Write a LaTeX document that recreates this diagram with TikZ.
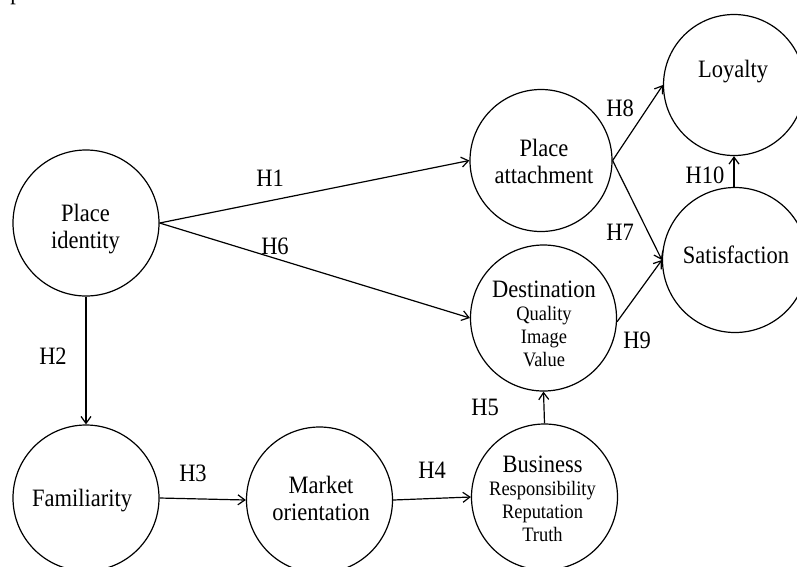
\documentclass[tikz,border=0pt]{standalone}
\usepackage{fontspec}
\setmainfont{Liberation Serif}[FakeStretch=0.9]
\usetikzlibrary{arrows.meta}
\begin{document}
\begin{tikzpicture}[x=1pt,y=-1pt,
  var/.style={draw, circle, line width=1.2pt, inner sep=0pt, minimum size=146pt},
  txt/.style={align=center, inner sep=0pt, font=\fontsize{25}{27}\selectfont},
  txtb/.style={align=center, inner sep=0pt, font=\fontsize{25}{23}\selectfont},
  link/.style={line width=1.2pt, -{Straight Barb[length=7pt,width=10pt,line width=1.2pt]}},
  hyp/.style={inner sep=0pt, font=\fontsize{25}{27}\selectfont}]
\useasboundingbox (0,0) rectangle (797,566);

% fragment of text cut at the top edge
\node[anchor=base, font=\fontsize{25}{27}\selectfont, inner sep=0pt] (frag) at (16,-1) {p};

% circles
\node[var] (PI) at (86,223) {};
\node[var, minimum size=142pt] (PA) at (541,160.5) {};
\node[var, minimum size=141pt] (LO) at (734,85) {};
\node[var, minimum size=145pt] (SA) at (735,260) {};
\node[var] (DE) at (543.5,318) {};
\node[var] (BU) at (544.5,497) {};
\node[var] (FA) at (86,498) {};
\node[var] (MO) at (319.5,500) {};

% texts
\node[txt] (PIt) at (85.5,228.7) {Place\\identity};
\node[txt] (PAt) at (544,161.5) {Place\\attachment};
\node[txt] (LOt) at (733,72) {Loyalty};
\node[txt] (SAt) at (736,254.5) {Satisfaction};
\node[txtb] (DEt) at (544,324) {Destination\\\fontsize{20.5}{23}\selectfont Quality\\\fontsize{20.5}{23}\selectfont Image\\\fontsize{20.5}{23}\selectfont Value};
\node[txtb] (BUt) at (542.5,498.5) {Business\\\fontsize{20.5}{23}\selectfont Responsibility\\\fontsize{20.5}{23}\selectfont Reputation\\\fontsize{20.5}{23}\selectfont Truth};
\node[txt] (FAt) at (82,501) {Familiarity};
\node[txt] (MOt) at (321,498) {Market\\orientation};

% connectors
\draw[link] (PI.east) -- (PA.west);
\draw[link] (PI.east) -- (DE.west);
\draw[link] (PI.south) -- (FA.north);
\draw[link] (FA.east) -- (MO.west);
\draw[link] (MO.east) -- (BU.west);
\draw[link] (BU.north) -- (DE.south);
\draw[link] (PA.east) -- (SA.west);
\draw[link] (PA.east) -- (LO.west);
\draw[link] (DE.-3) -- (SA.west);
\draw[link] (SA.north -| LO.south) -- (LO.south);

% hypothesis labels
\node[hyp] (h1) at (270,178.5) {H1};
\node[hyp] (h6) at (275,246) {H6};
\node[hyp] (h2) at (53,356) {H2};
\node[hyp] (h3) at (193,473) {H3};
\node[hyp] (h4) at (432,470) {H4};
\node[hyp] (h5) at (485,407) {H5};
\node[hyp] (h9) at (637,340) {H9};
\node[hyp] (h7) at (620,232) {H7};
\node[hyp] (h8) at (620,108) {H8};
\node[hyp] (h10) at (705,175) {H10};
\end{tikzpicture}
\end{document}
